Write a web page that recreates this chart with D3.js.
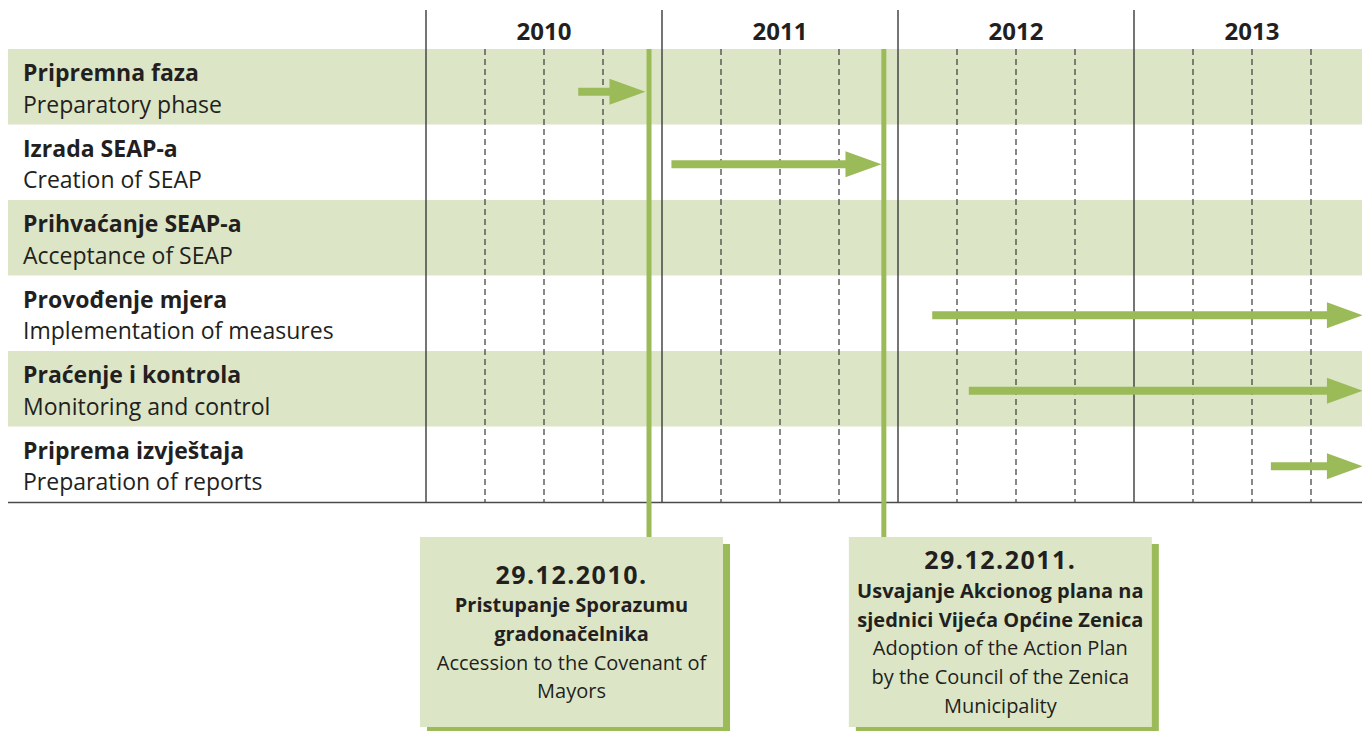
<!DOCTYPE html>
<html>
<head>
<meta charset="utf-8" />
<title>SEAP timeline</title>
<script src="https://d3js.org/d3.v7.min.js"></script>
<style>
  body { margin: 0; background: #fff; }
  text { font-family: "Open Sans", sans-serif; fill: #231f20; }
</style>
</head>
<body>
<svg id="chart"></svg>
<script>
// data
const years = [2010, 2011, 2012, 2013];
const phasesBs = ["Pripremna faza", "Izrada SEAP-a", "Prihvaćanje SEAP-a", "Provođenje mjera", "Praćenje i kontrola", "Priprema izvještaja"];
const phasesEn = ["Preparatory phase", "Creation of SEAP", "Acceptance of SEAP", "Implementation of measures", "Monitoring and control", "Preparation of reports"];
const arrowStart = [2010.645, 2011.04, null, 2012.145, 2012.30, 2013.58];
const arrowEnd = [2010.93, 2011.93, null, 2013.97, 2013.97, 2013.97];
const milestones = [2010.945, 2011.94];
const milestoneDates = ["29.12.2010.", "29.12.2011."];
const milestoneBs = [["Pristupanje Sporazumu", "gradonačelnika"], ["Usvajanje Akcionog plana na", "sjednici Vijeća Općine Zenica"]];
const milestoneEn = [["Accession to the Covenant of", "Mayors"], ["Adoption of the Action Plan", "by the Council of the Zenica", "Municipality"]];

const W = 1362, H = 731;
const green = "#9bbb59", band = "#dce6c6";

const svg = d3.select("#chart").attr("width", W).attr("height", H);

const x = d3.scaleLinear().domain([2010, 2014]).range([426, 1370]);
const y = d3.scaleBand().domain(d3.range(phasesBs.length)).range([49, 502]);

// shaded rows
svg.selectAll("rect.band")
  .data(d3.range(phasesBs.length).filter(i => i % 2 === 0))
  .enter().append("rect")
  .attr("x", 8).attr("width", W - 8)
  .attr("y", i => y(i)).attr("height", y.bandwidth())
  .attr("fill", band);

// quarter lines (dashed)
const quarters = [];
years.forEach(yr => [0.25, 0.5, 0.75].forEach(q => quarters.push(yr + q)));
svg.selectAll("line.q")
  .data(quarters)
  .enter().append("line")
  .attr("x1", d => x(d)).attr("x2", d => x(d))
  .attr("y1", 49).attr("y2", 502)
  .attr("stroke", "#3a3a3a").attr("stroke-width", 1.2)
  .attr("stroke-dasharray", "6,4");

// year lines
svg.selectAll("line.yr")
  .data(years.concat([2014]))
  .enter().append("line")
  .attr("x1", d => x(d)).attr("x2", d => x(d))
  .attr("y1", 10).attr("y2", 502)
  .attr("stroke", "#3a3a3a").attr("stroke-width", 1.4);

// bottom rule
svg.append("line")
  .attr("x1", 8).attr("x2", W).attr("y1", 502.5).attr("y2", 502.5)
  .attr("stroke", "#4a4a4a").attr("stroke-width", 1.6);

// year headers
svg.selectAll("text.yr")
  .data(years)
  .enter().append("text")
  .attr("x", d => x(d + 0.5)).attr("y", 40)
  .attr("text-anchor", "middle")
  .attr("font-weight", "bold").attr("font-size", 24)
  .text(d => d);

// row labels
phasesBs.forEach((t, i) => {
  svg.append("text").attr("x", 23).attr("y", y(i) + 32)
    .attr("font-weight", "bold").attr("font-size", 23).text(t);
  svg.append("text").attr("x", 23).attr("y", y(i) + 63.5)
    .attr("font-size", 23).text(phasesEn[i]);
});

// milestone lines
svg.selectAll("line.ms")
  .data(milestones)
  .enter().append("line")
  .attr("x1", d => x(d)).attr("x2", d => x(d))
  .attr("y1", 49).attr("y2", 540)
  .attr("stroke", green).attr("stroke-width", 5);

// arrows
const shaft = 4, headH = 13, headL = 36;
svg.selectAll("path.arrow")
  .data(d3.range(phasesBs.length).filter(i => arrowStart[i] !== null))
  .enter().append("path")
  .attr("fill", green)
  .attr("d", i => {
    const x0 = x(arrowStart[i]), x1 = x(arrowEnd[i]);
    const cy = y(i) + y.bandwidth() / 2 + (i === 0 ? 5 : 2);
    const p = d3.path();
    p.moveTo(x0, cy - shaft);
    p.lineTo(x1 - headL, cy - shaft);
    p.lineTo(x1 - headL, cy - headH);
    p.lineTo(x1, cy);
    p.lineTo(x1 - headL, cy + headH);
    p.lineTo(x1 - headL, cy + shaft);
    p.lineTo(x0, cy + shaft);
    p.closePath();
    return p.toString();
  });

// callout boxes
const boxOffset = [-229, -35], boxW = 303, boxTop = 537, boxH = 190, lineH = 28.7;
milestones.forEach((m, k) => {
  const bx = x(m) + boxOffset[k];
  svg.append("rect").attr("x", bx + 7).attr("y", boxTop + 7)
    .attr("width", boxW).attr("height", boxH).attr("fill", green);
  svg.append("rect").attr("x", bx).attr("y", boxTop)
    .attr("width", boxW).attr("height", boxH).attr("fill", band);
  const lines = [{t: milestoneDates[k], w: "date"}]
    .concat(milestoneBs[k].map(t => ({t, w: "bold"})))
    .concat(milestoneEn[k].map(t => ({t, w: "normal"})));
  const cy = 634 + 7, first = cy - (lines.length - 1) * lineH / 2;
  svg.selectAll(null)
    .data(lines)
    .enter().append("text")
    .attr("x", bx + boxW / 2)
    .attr("y", (d, i) => first + i * lineH)
    .attr("text-anchor", "middle")
    .attr("font-weight", d => d.w === "normal" ? "normal" : "bold")
    .attr("font-size", d => d.w === "date" ? 25 : 20)
    .attr("letter-spacing", d => d.w === "date" ? 1.5 : 0)
    .text(d => d.t);
});
</script>
</body>
</html>
